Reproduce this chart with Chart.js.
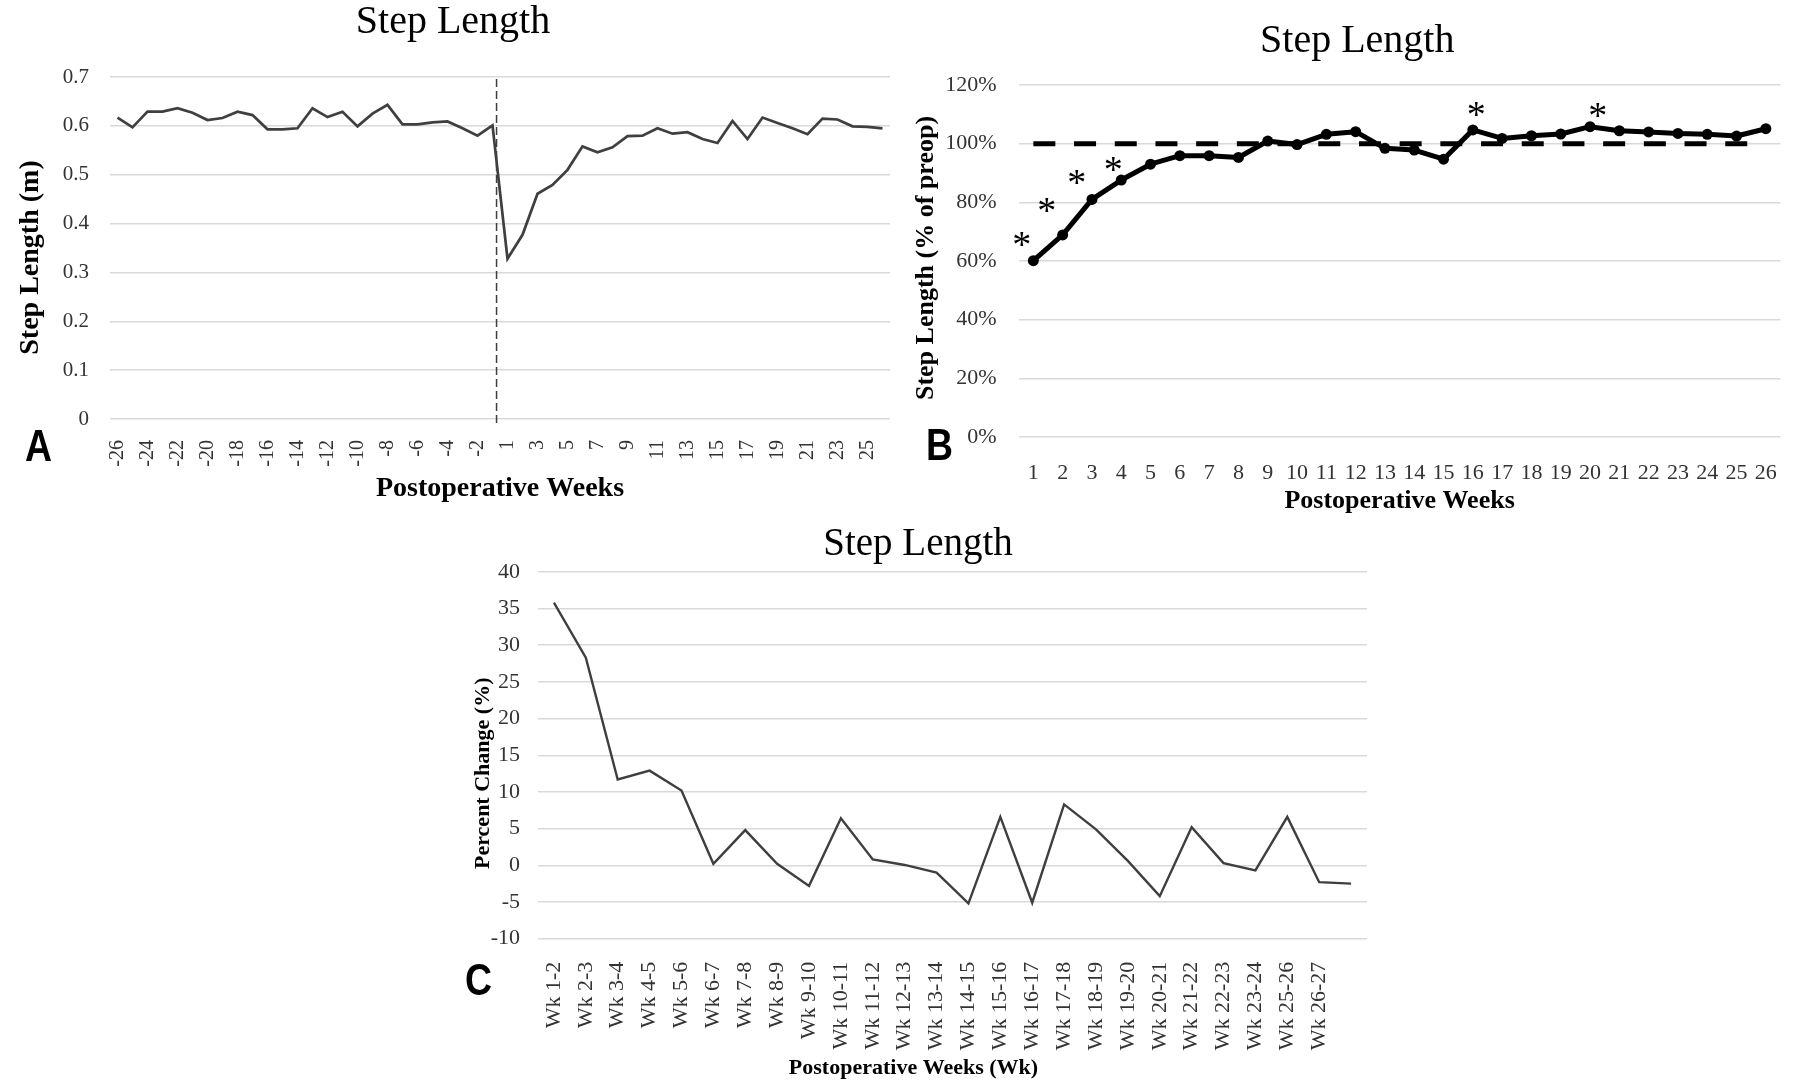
<!DOCTYPE html>
<html>
<head>
<meta charset="utf-8">
<script src="https://cdn.jsdelivr.net/npm/chart.js@4.4.1/dist/chart.umd.min.js"></script>
<style>
  html, body { margin: 0; background: #fff; }
  body { position: relative; width: 1803px; height: 1081px; overflow: hidden; }
  canvas { position: absolute; }
  .panel-tag {
    position: absolute;
    font-family: 'Liberation Sans', Arial, sans-serif;
    font-weight: bold;
    font-size: 44px;
    line-height: 1;
    color: #000;
    transform-origin: 0 0;
    transform: scaleX(0.85);
  }
</style>
</head>
<body>
<canvas id="chartA" width="900" height="508" style="left:0;top:-2px"></canvas>
<canvas id="chartB" width="903" height="500" style="left:900px;top:17px"></canvas>
<canvas id="chartC" width="960" height="560" style="left:440px;top:521px"></canvas>
<div class="panel-tag" style="left:25px;top:424px">A</div>
<div class="panel-tag" style="left:926px;top:423px">B</div>
<div class="panel-tag" style="left:465px;top:958px">C</div>
<script>
// A: weekly step length, 26 weeks before and after surgery
const weeksA = [-26, -25, -24, -23, -22, -21, -20, -19, -18, -17, -16, -15, -14,
  -13, -12, -11, -10, -9, -8, -7, -6, -5, -4, -3, -2, -1,
  1, 2, 3, 4, 5, 6, 7, 8, 9, 10, 11, 12, 13,
  14, 15, 16, 17, 18, 19, 20, 21, 22, 23, 24, 25, 26];
const stepLengthA = [0.617, 0.597, 0.629, 0.629, 0.636, 0.627, 0.612, 0.616, 0.629, 0.622, 0.593, 0.593, 0.595,
  0.636, 0.618, 0.629, 0.599, 0.625, 0.643, 0.603, 0.603, 0.607, 0.609, 0.595, 0.580, 0.601,
  0.328, 0.377, 0.461, 0.479, 0.510, 0.558, 0.546, 0.556, 0.579, 0.580, 0.595, 0.584, 0.587,
  0.573, 0.565, 0.610, 0.573, 0.617, 0.606, 0.595, 0.583, 0.615, 0.613, 0.599, 0.598, 0.595];

// B: step length as % of preop
const weeksB = [1, 2, 3, 4, 5, 6, 7, 8, 9, 10, 11, 12, 13, 14, 15, 16, 17, 18, 19, 20, 21, 22, 23, 24, 25, 26];
const stepPctB = [60.1, 68.9, 81.0, 87.6, 93.0, 95.9, 95.9, 95.3, 100.9, 99.7, 103.2, 104.1, 98.4,
  97.8, 94.7, 104.7, 101.8, 102.7, 103.3, 105.8, 104.4, 104.0, 103.5, 103.2, 102.6, 105.1];
const preopB = [100, 100, 100, 100, 100, 100, 100, 100, 100, 100, 100, 100, 100,
  100, 100, 100, 100, 100, 100, 100, 100, 100, 100, 100, 100, 100];
const starWeeksB = [1, 2, 3, 4, 16, 20];

// C: week-to-week percent change
const intervalsC = ['Wk 1-2', 'Wk 2-3', 'Wk 3-4', 'Wk 4-5', 'Wk 5-6', 'Wk 6-7', 'Wk 7-8', 'Wk 8-9',
  'Wk 9-10', 'Wk 10-11', 'Wk 11-12', 'Wk 12-13', 'Wk 13-14', 'Wk 14-15', 'Wk 15-16', 'Wk 16-17',
  'Wk 17-18', 'Wk 18-19', 'Wk 19-20', 'Wk 20-21', 'Wk 21-22', 'Wk 22-23', 'Wk 23-24', 'Wk 25-26',
  'Wk 26-27', ''];
const pctChangeC = [35.8, 28.3, 11.7, 12.9, 10.2, 0.2, 4.8, 0.2, -2.8, 6.4, 0.8, 0.05, -1.0,
  -5.2, 6.6, -5.1, 8.3, 4.9, 0.6, -4.2, 5.2, 0.3, -0.7, 6.6, -2.3, -2.5];

const SERIF = "'Liberation Serif', 'Times New Roman', serif";
const GRID = '#d9d9d9';
const LINE_GRAY = '#3f3f3f';

Chart.defaults.font.family = SERIF;
Chart.defaults.color = '#333333';

// star offsets (px) from each flagged point in B
const starOffsets = [[-11.6, -21.7], [-16, -30], [-15.3, -22.6], [-8, -15.7], [3.3, -20.7], [7.7, -16.7]];

// keep the x axis from pushing the plot in for its rotated end labels
function fixXAxis(height) {
  return (scale) => {
    scale.height = height;
    scale.paddingLeft = 0;
    scale.paddingRight = 0;
  };
}

const axisTitles = {
  id: 'axisTitles',
  afterDraw(chart, args, opts) {
    const { ctx, chartArea: area } = chart;
    ctx.save();
    ctx.fillStyle = '#000';
    ctx.textAlign = 'center';
    ctx.textBaseline = 'middle';
    ctx.font = `bold ${opts.x.size}px ${SERIF}`;
    ctx.fillText(opts.x.text, (area.left + area.right) / 2 + opts.x.dx, area.bottom + opts.x.dy);
    ctx.translate(area.left - opts.y.gap, (area.top + area.bottom) / 2 + opts.y.dy);
    ctx.rotate(-Math.PI / 2);
    ctx.font = `bold ${opts.y.size}px ${SERIF}`;
    ctx.fillText(opts.y.text, 0, 0);
    ctx.restore();
  }
};

const surgeryLine = {
  id: 'surgeryLine',
  afterDatasetsDraw(chart, args, opts) {
    const { ctx, chartArea: area } = chart;
    const xs = chart.scales.x;
    const labels = chart.data.labels;
    const before = xs.getPixelForValue(labels.indexOf(opts.from));
    const after = xs.getPixelForValue(labels.indexOf(opts.to));
    const x = before + (after - before) * opts.frac;
    ctx.save();
    ctx.strokeStyle = LINE_GRAY;
    ctx.lineWidth = 1.5;
    ctx.setLineDash([8, 4]);
    ctx.beginPath();
    ctx.moveTo(x, area.top + 2);
    ctx.lineTo(x, area.bottom + 8);
    ctx.stroke();
    ctx.restore();
  }
};

const starMarks = {
  id: 'starMarks',
  afterDatasetsDraw(chart, args, opts) {
    const { ctx } = chart;
    const meta = chart.getDatasetMeta(0);
    ctx.save();
    ctx.font = `${opts.size}px ${SERIF}`;
    ctx.fillStyle = '#000';
    ctx.textAlign = 'center';
    ctx.textBaseline = 'alphabetic';
    starWeeksB.forEach((w, i) => {
      const pt = meta.data[chart.data.labels.indexOf(w)];
      const [dx, dy] = starOffsets[i];
      ctx.fillText('*', pt.x + dx, pt.y + dy + opts.size * 0.475);
    });
    ctx.restore();
  }
};

// Chart A
new Chart(document.getElementById('chartA'), {
  type: 'line',
  data: {
    labels: weeksA,
    datasets: [{
      data: stepLengthA,
      borderColor: LINE_GRAY,
      borderWidth: 2.7,
      pointRadius: 0,
      tension: 0
    }]
  },
  options: {
    responsive: false,
    animation: false,
    layout: { padding: { left: 16, right: 10, top: 0, bottom: 0 } },
    plugins: {
      legend: { display: false },
      tooltip: { enabled: false },
      title: { display: true, text: 'Step Length', color: '#000', font: { size: 40, weight: 'normal' }, padding: { top: 0, bottom: 31 } },
      axisTitles: {
        x: { text: 'Postoperative Weeks', size: 28, dx: 0, dy: 70 },
        y: { text: 'Step Length (m)', size: 28, gap: 79, dy: 9.5 }
      },
      surgeryLine: { from: -1, to: 1, frac: 0.27 }
    },
    scales: {
      x: {
        offset: true,
        grid: { display: false },
        border: { display: false },
        ticks: {
          autoSkip: false,
          minRotation: 90,
          maxRotation: 90,
          padding: 13,
          font: { size: 20 },
          callback(value, index) {
            return index % 2 === 0 ? this.getLabelForValue(value) : '';
          }
        },
        afterFit: fixXAxis(87)
      },
      y: {
        min: 0,
        max: 0.7,
        grid: { color: GRID, lineWidth: 1.5, drawTicks: false },
        border: { display: false },
        ticks: {
          stepSize: 0.1,
          padding: 21,
          font: { size: 21 },
          callback: (v) => v === 0 ? '0' : v.toFixed(1)
        },
        afterFit: (scale) => { scale.width = 94; }
      }
    }
  },
  plugins: [axisTitles, surgeryLine]
});

// Chart B
new Chart(document.getElementById('chartB'), {
  type: 'line',
  data: {
    labels: weeksB,
    datasets: [{
      data: stepPctB,
      borderColor: '#000',
      backgroundColor: '#000',
      borderWidth: 5,
      borderJoinStyle: 'round',
      pointRadius: 5.5,
      pointBorderWidth: 0,
      pointBackgroundColor: '#000',
      tension: 0
    }, {
      data: preopB,
      borderColor: '#000',
      borderWidth: 5,
      borderDash: [22, 18.7],
      borderCapStyle: 'butt',
      pointRadius: 0,
      tension: 0
    }]
  },
  options: {
    responsive: false,
    animation: false,
    layout: { padding: { left: 34, right: 22.5, top: 0, bottom: 0 } },
    plugins: {
      legend: { display: false },
      tooltip: { enabled: false },
      title: { display: true, text: 'Step Length', color: '#000', font: { size: 40, weight: 'normal' }, padding: { top: 0, bottom: 20 } },
      axisTitles: {
        x: { text: 'Postoperative Weeks', size: 26, dx: 0, dy: 64.5 },
        y: { text: 'Step Length (% of preop)', size: 26, gap: 92, dy: -3 }
      },
      starMarks: { size: 38 }
    },
    scales: {
      x: {
        offset: true,
        grid: { display: false },
        border: { display: false },
        ticks: { autoSkip: false, maxRotation: 0, padding: 15, font: { size: 22 } },
        afterFit: fixXAxis(80)
      },
      y: {
        min: 0,
        max: 120,
        grid: { color: GRID, lineWidth: 1.5, drawTicks: false },
        border: { display: false },
        ticks: { stepSize: 20, padding: 22, font: { size: 22 }, callback: (v) => v + '%' },
        afterFit: (scale) => { scale.width = 84.7; }
      }
    }
  },
  plugins: [axisTitles, starMarks]
});

// Chart C
new Chart(document.getElementById('chartC'), {
  type: 'line',
  data: {
    labels: intervalsC,
    datasets: [{
      data: pctChangeC,
      borderColor: LINE_GRAY,
      borderWidth: 2.4,
      pointRadius: 0,
      tension: 0
    }]
  },
  options: {
    responsive: false,
    animation: false,
    layout: { padding: { left: 29, right: 33, top: 0, bottom: 0 } },
    plugins: {
      legend: { display: false },
      tooltip: { enabled: false },
      title: { display: true, text: 'Step Length', color: '#000', font: { size: 39, weight: 'normal' }, padding: { top: 0, bottom: 4 } },
      axisTitles: {
        x: { text: 'Postoperative Weeks (Wk)', size: 22, dx: -39, dy: 129.3 },
        y: { text: 'Percent Change (%)', size: 22, gap: 55, dy: 18 }
      }
    },
    scales: {
      x: {
        offset: true,
        grid: { display: false },
        border: { display: false },
        ticks: { autoSkip: false, minRotation: 90, maxRotation: 90, padding: 15, font: { size: 22 } },
        afterFit: fixXAxis(142.3)
      },
      y: {
        min: -10,
        max: 40,
        grid: { color: GRID, lineWidth: 1.5, drawTicks: false },
        border: { display: false },
        ticks: { stepSize: 5, padding: 18, font: { size: 22 } },
        afterFit: (scale) => { scale.width = 69; }
      }
    }
  },
  plugins: [axisTitles]
});
</script>
</body>
</html>
